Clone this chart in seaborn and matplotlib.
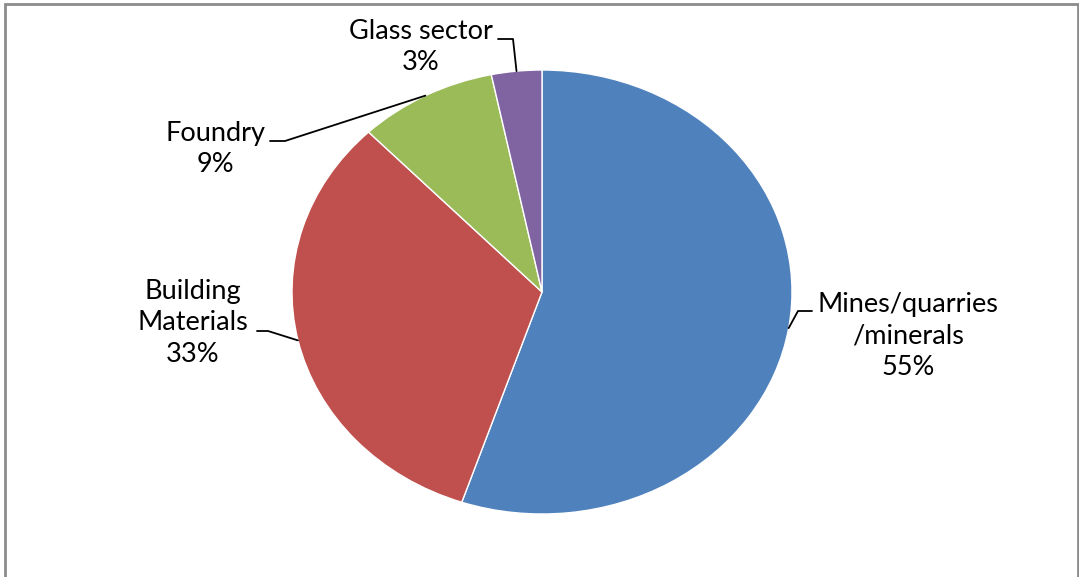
import numpy as np
import matplotlib.pyplot as plt
import seaborn as sns
from matplotlib.lines import Line2D
from matplotlib.patches import Rectangle

# data
sectors = ['Mines/quarries\n/minerals', 'Building\nMaterials', 'Foundry', 'Glass sector']
shares = [55.2, 32.6, 8.95, 3.25]
colors = ['#4F81BD', '#C0504D', '#9BBB59', '#8064A2']

W, H = 1079, 577


def fx(x):
    return x / W


def fy(y):
    return 1 - y / H


# label layout in pixels: text centre, elbow of the leader, end of the short tick
text_pos = [(908, 336), (193, 323), (215, 149), (421, 47)]
elbow_pos = [(798, 311), (268, 331), (285, 141), (513, 39)]
tick_pos = [(812, 311), (257, 331), (270, 141), (498, 39)]

sns.set_theme(style='white')
plt.rcParams['font.family'] = ['Lato', 'DejaVu Sans']

fig = plt.figure(figsize=(W / 100, H / 100), dpi=100)
ax = fig.add_axes([fx(292), fy(514), 500 / W, 444 / H])
wedges, _ = ax.pie(shares, colors=sns.color_palette(colors), startangle=90,
                   counterclock=False,
                   wedgeprops=dict(edgecolor='white', linewidth=1))
ax.set_aspect('auto')
ax.set_xlim(-1, 1)
ax.set_ylim(-1, 1)
fig.canvas.draw()

for w, name, val, tp, ep, kp in zip(wedges, sectors, shares, text_pos, elbow_pos, tick_pos):
    mid = np.deg2rad((w.theta1 + w.theta2) / 2)
    px, py = ax.transData.transform((np.cos(mid), np.sin(mid)))
    xs = [px / W, fx(ep[0]), fx(kp[0])]
    ys = [py / H, fy(ep[1]), fy(kp[1])]
    fig.add_artist(Line2D(xs, ys, color='black', linewidth=1.3,
                          transform=fig.transFigure))
    fig.text(fx(tp[0]), fy(tp[1]), f'{name}\n{round(val)}%', ha='center',
             va='center', multialignment='center', fontsize=19.5,
             linespacing=1.33, color='black')

fig.add_artist(Rectangle((fx(5), -0.1), 1073 / W, fy(4) + 0.1, fill=False,
                         edgecolor='#8c8c8c', linewidth=2,
                         transform=fig.transFigure))

fig.savefig('out.png', dpi=100, facecolor='white')
